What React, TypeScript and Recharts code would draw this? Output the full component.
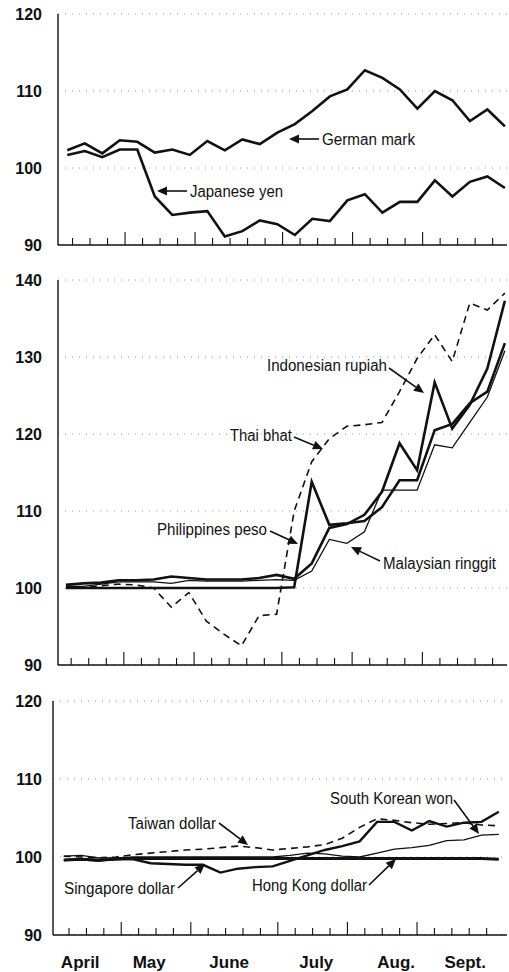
import React from 'react'
import { LineChart, Line, XAxis, YAxis, CartesianGrid } from 'recharts'

// weekly observations, April through September
const weeks = [0, 1, 2, 3, 4, 5, 6, 7, 8, 9, 10, 11, 12, 13, 14, 15, 16, 17, 18, 19, 20, 21, 22, 23, 24, 25]
const weekTicks = [0.3, 1.3, 2.3, 3.3, 4.3, 5.3, 6.3, 7.3, 8.3, 9.3, 10.3, 11.3, 12.3, 13.3, 14.3, 15.3, 16.3, 17.3, 18.3, 19.3, 20.3, 21.3, 22.3, 23.3, 24.3]
const monthStarts = [3.3, 7.3, 12.3, 16.3, 20.3]
const monthNames = ['April', 'May', 'June', 'July', 'Aug.', 'Sept.']
const monthCenters = [1.5, 5.3, 9.7, 14.5, 18.9, 22.7]

const germanMark = [102.3, 103.2, 101.9, 103.6, 103.4, 102.0, 102.4, 101.7, 103.5, 102.3, 103.7, 103.1, 104.6, 105.7, 107.4, 109.3, 110.2, 112.7, 111.7, 110.2, 107.7, 110.0, 108.8, 106.1, 107.6, 105.4]
const japaneseYen = [101.7, 102.2, 101.4, 102.4, 102.4, 96.3, 93.9, 94.2, 94.4, 91.1, 91.8, 93.2, 92.7, 91.3, 93.4, 93.1, 95.8, 96.6, 94.2, 95.6, 95.6, 98.4, 96.3, 98.2, 98.9, 97.4]

const thaiBaht = [100, 100, 100.3, 100.5, 100.4, 100, 97.5, 99.4, 95.7, 94, 92.5, 96.4, 96.6, 110, 116.4, 119.4, 121, 121.2, 121.5, 125.5, 129.8, 132.9, 129.4, 137, 136.1, 138.3]
const philippinesPeso = [100, 100, 100, 100, 100, 100, 100, 100, 100, 100, 100, 100, 100, 100.1, 113.8, 108.2, 108.4, 108.7, 110.5, 114, 114, 120.5, 121.3, 124, 125.5, 131.8]
const indonesianRupiah = [100.4, 100.6, 100.7, 101, 101, 101.1, 101.5, 101.3, 101.1, 101.1, 101.1, 101.3, 101.7, 101.2, 103.2, 107.8, 108.3, 109.5, 112.5, 118.8, 115.3, 126.7, 120.7, 123.8, 128.5, 137.3]
const malaysianRinggit = [100.2, 100.2, 100.5, 100.8, 100.8, 100.8, 100.6, 101, 100.9, 100.9, 100.9, 101, 101.1, 101, 102.2, 106.3, 105.8, 107.3, 112.7, 112.7, 112.7, 118.6, 118.2, 121.5, 124.8, 130.8]

const singaporeDollar = [99.6, 99.7, 99.5, 99.8, 99.7, 99.2, 99.1, 99.0, 99.0, 98.0, 98.5, 98.7, 98.8, 99.5, 100.2, 100.9, 101.4, 102.0, 104.5, 104.5, 103.4, 104.6, 103.9, 104.4, 104.5, 105.8]
const southKoreanWon = [100.1, 100.2, 99.9, 99.9, 100, 100, 100, 100, 100, 100, 100, 100, 100, 100.2, 100.5, 100.4, 100.1, 100.0, 100.5, 101.0, 101.2, 101.5, 102.1, 102.2, 102.8, 102.9]
const taiwanDollar = [100.1, 100, 99.9, 100, 100.3, 100.5, 100.7, 100.9, 101.0, 101.2, 101.4, 101.2, 100.9, 101.1, 101.3, 101.6, 102.4, 103.8, 104.9, 104.7, 104.4, 104.2, 104.3, 104.4, 104.1, 104.0]
const hongKongDollar = [99.6, 99.7, 99.6, 99.7, 99.8, 99.8, 99.8, 99.8, 99.8, 99.8, 99.8, 99.8, 99.8, 99.8, 99.8, 99.8, 99.8, 99.8, 99.8, 99.8, 99.8, 99.8, 99.8, 99.8, 99.8, 99.7]

const INK = '#111'
const FONT = "'Liberation Sans', Arial, Helvetica, sans-serif"
const LABEL_FONT = "'Liberation Sans Narrow', 'Arial Narrow', 'Liberation Sans', Arial, sans-serif"

const topData = weeks.map((x, i) => ({ x, german: germanMark[i], yen: japaneseYen[i] }))
const midData = weeks.map((x, i) => ({
  x,
  thai: thaiBaht[i],
  peso: philippinesPeso[i],
  rupiah: indonesianRupiah[i],
  ringgit: malaysianRinggit[i],
}))
const lowData = weeks.map((x, i) => ({
  x,
  sgd: singaporeDollar[i],
  won: southKoreanWon[i],
  twd: taiwanDollar[i],
  hkd: hongKongDollar[i],
}))

function WeekTick(props: any) {
  const { x, y, payload } = props
  const long = monthStarts.includes(payload.value)
  return <line x1={x} x2={x} y1={y} y2={y - (long ? 13 : 7)} stroke={INK} strokeWidth={1.1} />
}

function MonthTick(props: any) {
  const { x, y, payload } = props
  const name = monthNames[monthCenters.indexOf(payload.value)]
  return (
    <text x={x} y={y + 25} textAnchor="middle" fontFamily={FONT} fontWeight={700} fontSize={17} fill={INK}>
      {name}
    </text>
  )
}

type Series = { key: string; width: number; dash?: string }

interface PanelProps {
  data: any[]
  series: Series[]
  top: number
  height: number
  marginTop: number
  yAxisWidth: number
  yDomain: [number, number]
  yTicks: number[]
  xDomain: [number, number]
  showMonths?: boolean
}

function Panel({ data, series, top, height, marginTop, yAxisWidth, yDomain, yTicks, xDomain, showMonths }: PanelProps) {
  const frame = { stroke: INK, strokeWidth: 1.4 }
  return (
    <div style={{ position: 'absolute', left: 0, top }}>
      <LineChart width={509} height={height} data={data} margin={{ top: marginTop, right: 2, left: 0, bottom: 0 }}>
        <CartesianGrid vertical={false} stroke="#9a9a9a" strokeDasharray="1 6" />
        <XAxis xAxisId="frame" orientation="top" type="number" domain={[0, 1]} height={0} tick={false} tickLine={false} axisLine={frame} />
        <YAxis yAxisId="frame" orientation="right" type="number" domain={[0, 1]} width={0} tick={false} tickLine={false} axisLine={frame} />
        <XAxis
          dataKey="x"
          type="number"
          domain={xDomain}
          allowDataOverflow
          ticks={weekTicks}
          interval={0}
          tick={(p: any) => <WeekTick {...p} />}
          tickLine={false}
          tickSize={0}
          tickMargin={0}
          height={showMonths ? 8 : 15}
          axisLine={frame}
        />
        {showMonths && (
          <XAxis
            xAxisId="months"
            type="number"
            domain={xDomain}
            allowDataOverflow
            ticks={monthCenters}
            interval={0}
            tick={(p: any) => <MonthTick {...p} />}
            tickLine={false}
            tickSize={0}
            tickMargin={0}
            height={29}
            axisLine={false}
          />
        )}
        <YAxis
          type="number"
          domain={yDomain}
          ticks={yTicks}
          interval={0}
          width={yAxisWidth}
          tickLine={false}
          tickSize={0}
          tickMargin={yAxisWidth - 42}
          tick={{ fontSize: 16, fontWeight: 700, fill: INK, fontFamily: FONT }}
          axisLine={frame}
        />
        {series.map((s) => (
          <Line
            key={s.key}
            dataKey={s.key}
            type="linear"
            stroke={INK}
            strokeWidth={s.width}
            strokeDasharray={s.dash}
            dot={false}
            activeDot={false}
            isAnimationActive={false}
          />
        ))}
      </LineChart>
    </div>
  )
}

function Arrow({ from, to }: { from: number[]; to: number[] }) {
  const [x1, y1] = from
  const [x2, y2] = to
  const len = Math.hypot(x2 - x1, y2 - y1)
  const ux = (x2 - x1) / len
  const uy = (y2 - y1) / len
  const bx = x2 - ux * 10
  const by = y2 - uy * 10
  return (
    <g>
      <line x1={x1} y1={y1} x2={bx} y2={by} stroke={INK} strokeWidth={1.6} />
      <polygon points={`${x2},${y2} ${bx - uy * 4.5},${by + ux * 4.5} ${bx + uy * 4.5},${by - ux * 4.5}`} fill={INK} />
    </g>
  )
}

// callout placement on the page
const notes = [
  { text: 'German mark', x: 322, y: 145, w: 93, from: [319, 139], to: [289, 139] },
  { text: 'Japanese yen', x: 190, y: 197, w: 93, from: [187, 191], to: [157, 191] },
  { text: 'Indonesian rupiah', x: 267, y: 371, w: 120, from: [389, 368], to: [424, 393] },
  { text: 'Thai bhat', x: 230, y: 441, w: 62, from: [294, 437], to: [323, 449] },
  { text: 'Philippines peso', x: 157, y: 535, w: 110, from: [270, 531], to: [298, 544] },
  { text: 'Malaysian ringgit', x: 383, y: 569, w: 113, from: [380, 561], to: [351, 547] },
  { text: 'Taiwan dollar', x: 128, y: 829, w: 88, from: [219, 823], to: [248, 845] },
  { text: 'South Korean won', x: 330, y: 804, w: 123, from: [454, 800], to: [479, 834] },
  { text: 'Singapore dollar', x: 64, y: 894, w: 111, from: [178, 888], to: [205, 864] },
  { text: 'Hong Kong dollar', x: 252, y: 891, w: 115, from: [369, 885], to: [396, 859] },
]

export default function App() {
  return (
    <div style={{ position: 'absolute', left: 0, top: 0, width: 509, height: 972, background: '#fff', overflow: 'hidden' }}>
      <Panel
        data={topData}
        series={[
          { key: 'german', width: 2.6 },
          { key: 'yen', width: 2.6 },
        ]}
        top={0}
        height={260}
        marginTop={14}
        yAxisWidth={58}
        yDomain={[90, 120]}
        yTicks={[90, 100, 110, 120]}
        xDomain={[-0.53, 25.12]}
      />
      <Panel
        data={midData}
        series={[
          { key: 'thai', width: 1.6, dash: '7 5' },
          { key: 'ringgit', width: 1.3 },
          { key: 'rupiah', width: 2.6 },
          { key: 'peso', width: 2.6 },
        ]}
        top={260}
        height={420}
        marginTop={20}
        yAxisWidth={58}
        yDomain={[90, 140]}
        yTicks={[90, 100, 110, 120, 130, 140]}
        xDomain={[-0.45, 25.12]}
      />
      <Panel
        data={lowData}
        series={[
          { key: 'twd', width: 1.6, dash: '7 5' },
          { key: 'won', width: 1.3 },
          { key: 'sgd', width: 2.4 },
          { key: 'hkd', width: 3 },
        ]}
        top={680}
        height={292}
        marginTop={21}
        yAxisWidth={53}
        yDomain={[90, 120]}
        yTicks={[90, 100, 110, 120]}
        xDomain={[-0.62, 25.47]}
        showMonths
      />
      <svg width={509} height={972} style={{ position: 'absolute', left: 0, top: 0, pointerEvents: 'none' }}>
        {notes.map((n) => (
          <g key={n.text}>
            <text
              x={n.x}
              y={n.y}
              fontFamily={LABEL_FONT}
              fontSize={16}
              fill={INK}
              textLength={n.w}
              lengthAdjust="spacingAndGlyphs"
            >
              {n.text}
            </text>
            <Arrow from={n.from} to={n.to} />
          </g>
        ))}
      </svg>
    </div>
  )
}
